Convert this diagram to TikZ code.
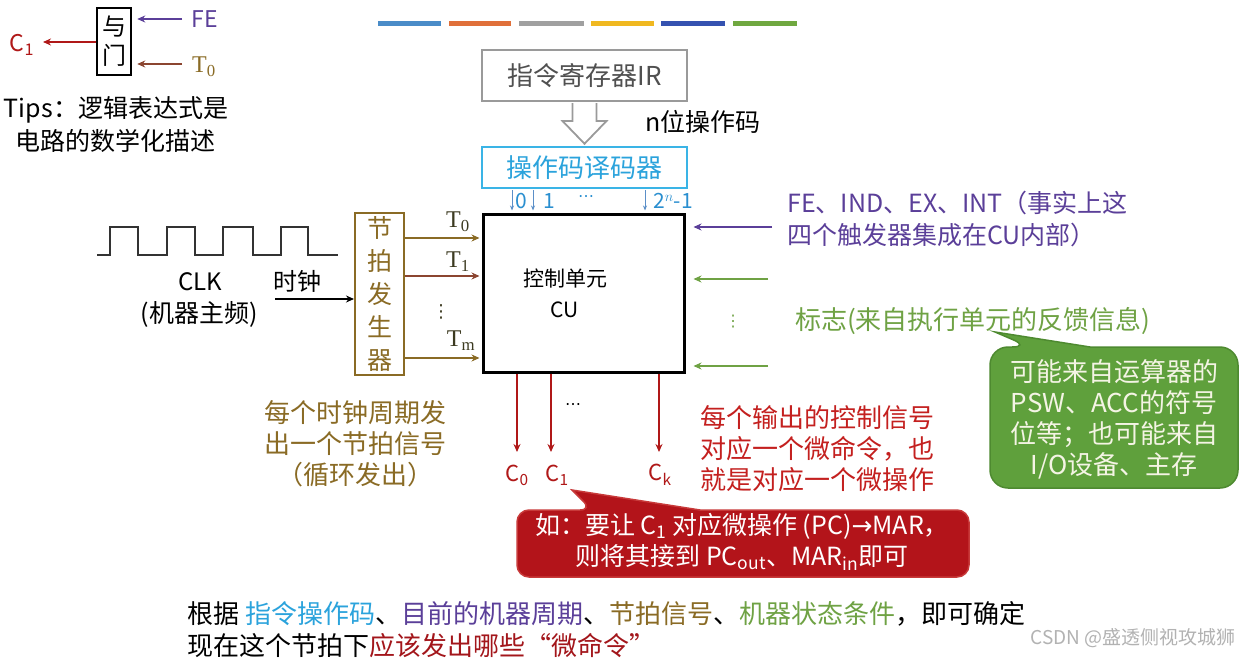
\documentclass[tikz,border=0pt]{standalone}
\usepackage{fontspec}
\setmainfont{Noto Sans CJK SC}
\newfontfamily\serifT{Liberation Serif}
\newfontfamily\dejavu{DejaVu Sans}
\usetikzlibrary{arrows.meta,calc}
\definecolor{barA}{HTML}{4A8CC8}
\definecolor{barB}{HTML}{E0703A}
\definecolor{barC}{HTML}{A0A0A0}
\definecolor{barD}{HTML}{F0B820}
\definecolor{barE}{HTML}{3552B0}
\definecolor{barF}{HTML}{70A840}
\definecolor{irgray}{HTML}{9A9A9A}
\definecolor{irtext}{HTML}{505050}
\definecolor{decB}{HTML}{3AB4E6}
\definecolor{cyanT}{HTML}{2BA3DC}
\definecolor{decArr}{HTML}{5B8FC8}
\definecolor{decLab}{HTML}{2A8FD0}
\definecolor{purpleT}{HTML}{5B3F99}
\definecolor{greenT}{HTML}{6FA244}
\definecolor{oliveT}{HTML}{8A6B25}
\definecolor{brownA}{HTML}{8B4530}
\definecolor{tlab}{HTML}{3C3A20}
\definecolor{redT}{HTML}{C4201F}
\definecolor{redA}{HTML}{B01818}
\definecolor{darkred}{HTML}{A3161B}
\definecolor{bubR}{HTML}{B3141A}
\definecolor{bubRb}{HTML}{C83A3A}
\definecolor{bubG}{HTML}{5FA03C}
\definecolor{bubGb}{HTML}{4E8A30}
\definecolor{bubText}{HTML}{F4F4E4}
\definecolor{waveC}{HTML}{333333}
\begin{document}
\begin{tikzpicture}[x=1pt,y=-1pt,
  arr/.style={-{Stealth[length=8pt,width=7pt]}, line width=1.6pt},
  thinarr/.style={-{Stealth[length=5pt,width=4pt]}, line width=0.9pt, decArr},
  txt/.style={inner sep=0pt, align=center, font=\fontsize{26}{31}\selectfont},
  smalltxt/.style={inner sep=0pt, align=center, font=\fontsize{22}{26}\selectfont},
  tl/.style={inner sep=0pt, font=\serifT\fontsize{24}{26}\selectfont, tlab}]
\fill[white] (0,0) rectangle (1239,661);
\useasboundingbox (0,0) rectangle (1239,661);

% colour bars
\foreach \xa/\xb/\c in {378/441/barA,449/511/barB,519/584/barC,591/654/barD,661/725/barE,733/797/barF}
  \draw[line width=5pt,\c] (\xa,24) -- (\xb,24);

% IR and decoder
\node[txt, draw=irgray, line width=2pt, minimum width=205pt, minimum height=51pt, text=irtext] (ir) at (584.5,75.5) {指令寄存器IR};
\node[txt, draw=decB, line width=2.5pt, minimum width=205pt, minimum height=41pt, text=cyanT] (dec) at (584.5,167.5) {操作码译码器};
\draw[irgray, line width=1.8pt, fill=white, line join=miter]
  ($(ir.south)+(-12,1)$) -- ($(ir.south)+(-12,19)$) -- ($(ir.south)+(-22,19)$)
  -- ($(dec.north)+(0,-2)$) -- ($(ir.south)+(22,19)$) -- ($(ir.south)+(12,19)$)
  -- ($(ir.south)+(12,1)$);
\node[txt, font=\fontsize{25}{31}\selectfont] (nbit) at (703,122) {n位操作码};

% CU
\node[draw=black, line width=3pt, minimum width=201pt, minimum height=158pt, inner sep=0pt] (cu) at (583.5,293) {};
\node[txt, font=\fontsize{21}{31}\selectfont] (cutext) at (565,293) {控制单元\\CU};

% decoder outputs
\coordinate (d0) at (512,0);
\coordinate (d1) at (533,0);
\coordinate (dn) at (645,0);
\draw[thinarr] ($(dec.south -| d0)+(0,1)$) -- ($(cu.north -| d0)+(0,-2)$);
\draw[thinarr] ($(dec.south -| d1)+(0,1)$) -- ($(cu.north -| d1)+(0,-2)$);
\draw[thinarr] ($(dec.south -| dn)+(0,1)$) -- ($(cu.north -| dn)+(0,-2)$);
\node[smalltxt, text=decLab, font=\fontsize{21}{24}\selectfont] (l0) at (521,201) {0};
\node[smalltxt, text=decLab, font=\fontsize{21}{24}\selectfont] (l1) at (549,201) {1};
\node[smalltxt, text=decLab, font=\dejavu\fontsize{16}{18}\selectfont] (ldots) at (586,199) {⋯};
\node[smalltxt, text=decLab, font=\fontsize{21}{24}\selectfont] (ln) at (673,201) {2$^{n}$-1};

% clock waveform
\draw[line width=2pt, waveC] (97,255) -- (110,255) -- (110,227) -- (138,227) -- (138,255) -- (167,255) -- (167,227) -- (195,227) -- (195,255) -- (223,255) -- (223,227) -- (253,227) -- (253,255) -- (281,255) -- (281,227) -- (308,227) -- (308,255) -- (338,255);
\node[txt, font=\fontsize{24}{31}\selectfont] (clk) at (200,282) {CLK};
\node[txt, font=\fontsize{25}{31}\selectfont] (clkcn) at (199,314) {(机器主频)};
\node[txt, font=\fontsize{24}{31}\selectfont] (shizhong) at (297,281) {时钟};

% beat generator
\node[txt, draw=oliveT, line width=2pt, minimum width=49pt, minimum height=162pt, text=oliveT, font=\fontsize{25}{33}\selectfont] (beat) at (379.5,294) {节\\拍\\发\\生\\器};
\coordinate (clkin) at (275,299);
\draw[arr, black] (clkin) -- (beat.west |- clkin);

% T outputs
\coordinate (t0y) at (0,238);
\coordinate (t1y) at (0,276);
\coordinate (tmy) at (0,358);
\draw[arr, oliveT] (beat.east |- t0y) -- ($(cu.west |- t0y)+(-2,0)$);
\draw[arr, brownA] (beat.east |- t1y) -- ($(cu.west |- t1y)+(-2,0)$);
\draw[arr, oliveT] (beat.east |- tmy) -- ($(cu.west |- tmy)+(-2,0)$);
\node[tl] (t0) at (458,222) {T\textsubscript{0}};
\node[tl] (t1) at (458,262) {T\textsubscript{1}};
\node[inner sep=0pt, text=tlab, font=\dejavu\fontsize{18}{20}\selectfont] (tvd) at (441,312) {⋮};
\node[tl] (tm) at (461,341) {T\textsubscript{m}};

% right inputs
\coordinate (fein) at (772,227);
\coordinate (g1in) at (768,279);
\coordinate (g2in) at (768,366);
\draw[arr, purpleT] (fein) -- ($(cu.east |- fein)+(8,0)$);
\draw[arr, greenT] (g1in) -- ($(cu.east |- g1in)+(8,0)$);
\draw[arr, greenT] (g2in) -- ($(cu.east |- g2in)+(8,0)$);
\node[inner sep=0pt, text=greenT, font=\dejavu\fontsize{16}{18}\selectfont] (gvd) at (733,322) {⋮};
\node[txt, align=left, anchor=west, text=purpleT, font=\fontsize{25}{32}\selectfont] (fetext) at (787,219) {FE、IND、EX、INT（事实上这\\四个触发器集成在CU内部）};
\node[txt, anchor=west, text=greenT] (flag) at (795,321) {标志(来自执行单元的反馈信息)};

% green bubble
\draw[fill=bubG, draw=bubGb, line width=1.5pt] (1030,347) -- (995,332) -- (1090,347) [rounded corners=18pt] -- (1238,347) -- (1238,488) -- (990,488) -- (990,347) -- cycle;
\node[txt, text=bubText] (gbub) at (1114,419) {可能来自运算器的\\PSW、ACC的符号\\位等；也可能来自\\I/O设备、主存};

% CU outputs
\coordinate (o0) at (517,452);
\coordinate (o1) at (551,452);
\coordinate (ok) at (659,452);
\draw[arr, redA] (cu.south -| o0) -- (o0);
\draw[arr, redA] (cu.south -| o1) -- (o1);
\draw[arr, redA] (cu.south -| ok) -- (ok);
\node[inner sep=0pt, font=\dejavu\fontsize{16}{18}\selectfont] (odots) at (573,407) {⋯};
\node[smalltxt, text=redA] (c0) at (517,475) {C\textsubscript{0}};
\node[smalltxt, text=redA] (c1) at (557,475) {C\textsubscript{1}};
\node[smalltxt, text=redA] (ck) at (660,475) {C\textsubscript{k}};

\node[txt, text=oliveT] (beatnote) at (355,444) {每个时钟周期发\\出一个节拍信号\\（循环发出）};
\node[txt, align=left, anchor=west, text=redT] (cnote) at (700,449) {每个输出的控制信号\\对应一个微命令，也\\就是对应一个微操作};

% red bubble
\draw[fill=bubR, draw=bubRb, line width=1.5pt] (592,510) -- (572,490) -- (700,510) [rounded corners=12pt] -- (969,510) -- (969,577) -- (517,577) -- (517,510) -- cycle;
\node[txt, text=white, font=\fontsize{25}{31}\selectfont] (rbub) at (742,542) {如：要让 C\textsubscript{1} 对应微操作 (PC){\dejavu →}MAR，\\则将其接到 PC\textsubscript{out}、MAR\textsubscript{in}即可};

% AND gate
\node[txt, draw=black, line width=2.5pt, minimum width=34pt, minimum height=67pt, font=\fontsize{24}{29}\selectfont] (gate) at (114,41.5) {与\\门};
\node[txt, text=purpleT, font=\fontsize{23}{26}\selectfont] (fe) at (205,19) {FE};
\node[tl, text=oliveT] (gt0) at (204,67) {T\textsubscript{0}};
\node[txt, text=redA, font=\fontsize{23}{26}\selectfont] (gc1) at (22,45) {C\textsubscript{1}};
\coordinate (feS) at (182,19);
\coordinate (t0S) at (182,64);
\coordinate (c1E) at (43,42);
\draw[arr, purpleT] (feS) -- ($(gate.east |- feS)+(5,0)$);
\draw[arr, brownA] (t0S) -- ($(gate.east |- t0S)+(5,0)$);
\draw[arr, redA] (gate.west |- c1E) -- (c1E);
\node[txt, font=\fontsize{25}{33}\selectfont] (tips) at (116,125) {Tips：逻辑表达式是\\电路的数学化描述};

% bottom text
\node[txt, anchor=west] (sum1) at (187,614) {根据 \textcolor{cyanT}{指令操作码}、\textcolor{purpleT}{目前的机器周期}、\textcolor{oliveT}{节拍信号}、\textcolor{greenT}{机器状态条件}，即可确定};
\node[txt, anchor=west] (sum2) at (187,646) {现在这个节拍下\textcolor{darkred}{应该发出哪些“微命令”}};

\node[txt, anchor=east, text=black!30, font=\fontsize{19}{24}\selectfont] (wm) at (1236,638) {CSDN @盛透侧视攻城狮};
\end{tikzpicture}
\end{document}
